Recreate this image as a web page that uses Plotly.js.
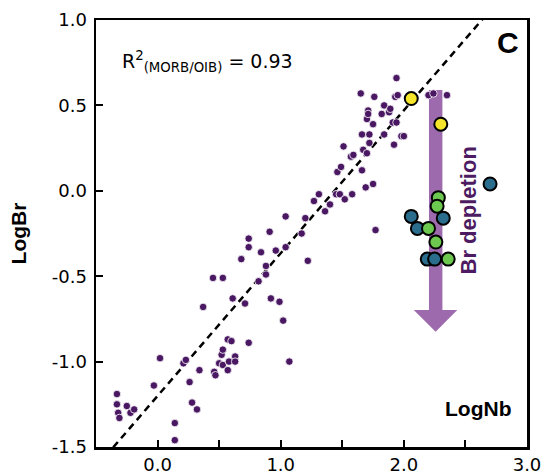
<!DOCTYPE html>
<html>
<head>
<meta charset="utf-8">
<script src="https://cdn.plot.ly/plotly-3.0.1.min.js"></script>
<style>html,body{margin:0;padding:0;background:#fff;}#chart{width:544px;height:475px;}</style>
</head>
<body>
<div id="chart"></div>
<script>
// MORB/OIB data (LogNb, LogBr)
var morbX = [-0.33,-0.33,-0.32,-0.31,-0.25,-0.22,-0.19,-0.03,0.02,0.14,0.14,0.21,0.23,0.26,0.28,0.32,0.34,0.37,0.46,0.47,0.50,0.52,0.53,0.53,0.57,0.58,0.57,0.60,0.63,0.63,0.61,0.71,0.74,0.45,0.53,0.92,0.99,1.02,1.07,0.68,0.74,0.74,0.84,0.88,0.88,0.82,0.91,0.96,1.04,1.04,1.17,1.20,1.22,1.27,1.31,1.36,1.40,1.45,1.48,1.46,1.49,1.52,1.58,1.57,1.59,1.66,1.69,1.75,1.77,1.51,1.67,1.70,1.66,1.72,1.84,1.98,2.00,1.72,1.92,1.70,1.75,1.91,1.94,1.71,1.71,1.82,1.88,1.84,1.89,1.65,1.76,1.93,1.95,1.94,2.20,2.24,2.35];
var morbY = [-1.19,-1.25,-1.30,-1.33,-1.26,-1.30,-1.28,-1.14,-0.98,-1.36,-1.46,-1.01,-0.99,-1.12,-1.24,-1.28,-1.05,-0.68,-1.06,-1.08,-1.01,-0.96,-0.93,-1.02,-1.05,-1.00,-0.87,-0.88,-0.97,-1.00,-0.63,-0.66,-0.89,-0.51,-0.51,-0.63,-0.65,-0.76,-1.00,-0.40,-0.33,-0.28,-0.36,-0.44,-0.49,-0.53,-0.24,-0.35,-0.33,-0.15,-0.25,-0.16,-0.41,-0.06,-0.02,-0.12,-0.08,-0.02,-0.02,0.11,0.14,-0.05,-0.02,0.20,0.21,0.12,0.02,0.04,-0.23,0.26,0.24,0.22,0.33,0.33,0.33,0.32,0.32,0.28,0.27,0.42,0.39,0.40,0.40,0.47,0.45,0.45,0.46,0.50,0.48,0.57,0.55,0.55,0.56,0.66,0.56,0.57,0.56];

// Highlighted samples
var yellowX = [2.06, 2.30];
var yellowY = [0.54, 0.39];
var tealX = [2.06, 2.11, 2.32, 2.19, 2.25, 2.70];
var tealY = [-0.15, -0.22, -0.16, -0.40, -0.40, 0.04];
var greenX = [2.28, 2.27, 2.20, 2.26, 2.36];
var greenY = [-0.04, -0.09, -0.22, -0.30, -0.40];

// Regression line
var fitSlope = 0.836;
var fitIntercept = -1.201;
var fitXRange = [-0.36, 2.64];

// Tick labels
var xTickVals = [0, 0.5, 1, 1.5, 2, 2.5, 3];
var xTickText = ['0.0', '', '1.0', '', '2.0', '', '3.0'];
var yTickVals = [1.0, 0.5, 0.0, -0.5, -1.0, -1.5];
var yTickText = ['1.0', '0.5', '0.0', '-0.5', '-1.0', '-1.5'];

var fitY = fitXRange.map(function(x){ return fitSlope * x + fitIntercept; });

var traces = [
  {x: fitXRange, y: fitY, mode: 'lines', line: {color: '#000', width: 2.5, dash: '7px,5px'}, hoverinfo: 'skip', showlegend: false},
  {x: morbX, y: morbY, mode: 'markers', marker: {color: '#4a1862', size: 7.5, line: {color: '#fff', width: 0.8}}, showlegend: false},
  {x: yellowX, y: yellowY, mode: 'markers', marker: {color: '#f6e62b', size: 13, line: {color: '#000', width: 2}}, showlegend: false},
  {x: tealX, y: tealY, mode: 'markers', marker: {color: '#2a6d8c', size: 13, line: {color: '#000', width: 2}}, showlegend: false},
  {x: greenX, y: greenY, mode: 'markers', marker: {color: '#6cc84f', size: 13, line: {color: '#000', width: 2}}, showlegend: false}
];

var tickFont = {family: 'DejaVu Sans, Verdana, sans-serif', size: 18, color: '#000'};
var boldFont = 'Liberation Sans, Arial, Helvetica, sans-serif';

var arrowColor = '#9d6aad';
var layout = {
  width: 544, height: 475,
  margin: {l: 96, r: 17, t: 20, b: 28},
  paper_bgcolor: '#fff', plot_bgcolor: '#fff',
  xaxis: {
    range: [-0.5, 3.0], tickvals: xTickVals, ticktext: xTickText,
    ticks: 'inside', ticklen: 7, tickwidth: 2, tickcolor: '#000',
    showline: true, linewidth: 2.5, linecolor: '#000', mirror: true,
    showgrid: false, zeroline: false, tickfont: tickFont, ticklabelstandoff: 0
  },
  yaxis: {
    range: [-1.5, 1.0], tickvals: yTickVals, ticktext: yTickText,
    ticks: 'inside', ticklen: 7, tickwidth: 2, tickcolor: '#000',
    showline: true, linewidth: 2.5, linecolor: '#000', mirror: true,
    showgrid: false, zeroline: false, tickfont: tickFont, ticklabelstandoff: 3,
    title: {text: '<b>LogBr</b>', font: {family: boldFont, size: 21, color: '#000'}, standoff: 20}
  },
  shapes: [
    {type: 'rect', xref: 'x', yref: 'y', x0: 2.204, x1: 2.313, y0: -0.70, y1: 0.59, fillcolor: arrowColor, line: {width: 0}, layer: 'below'},
    {type: 'path', xref: 'x', yref: 'y', path: 'M 2.081 -0.698 L 2.434 -0.698 L 2.258 -0.825 Z', fillcolor: arrowColor, line: {width: 0}, layer: 'below'}
  ],
  annotations: [
    {xref: 'paper', yref: 'paper', x: 0.0557, y: 0.902, xanchor: 'left', yanchor: 'middle', showarrow: false,
     text: 'R<sup>2</sup><sub>(MORB/OIB)</sub> = 0.93', font: {family: 'DejaVu Sans, Verdana, sans-serif', size: 19, color: '#000'}},
    {xref: 'paper', yref: 'paper', x: 0.9548, y: 0.947, xanchor: 'center', yanchor: 'middle', showarrow: false,
     text: '<b>C</b>', font: {family: boldFont, size: 30, color: '#000'}},
    {xref: 'paper', yref: 'paper', x: 0.8863, y: 0.089, xanchor: 'center', yanchor: 'middle', showarrow: false,
     text: '<b>LogNb</b>', font: {family: boldFont, size: 21, color: '#000'}},
    {xref: 'paper', yref: 'paper', x: 0.8643, y: 0.5527, xanchor: 'center', yanchor: 'middle', showarrow: false, textangle: -90,
     text: '<b>Br depletion</b>', font: {family: boldFont, size: 22, color: '#4d1b61'}}
  ]
};

Plotly.newPlot('chart', traces, layout, {staticPlot: true, displayModeBar: false});
</script>
</body>
</html>
